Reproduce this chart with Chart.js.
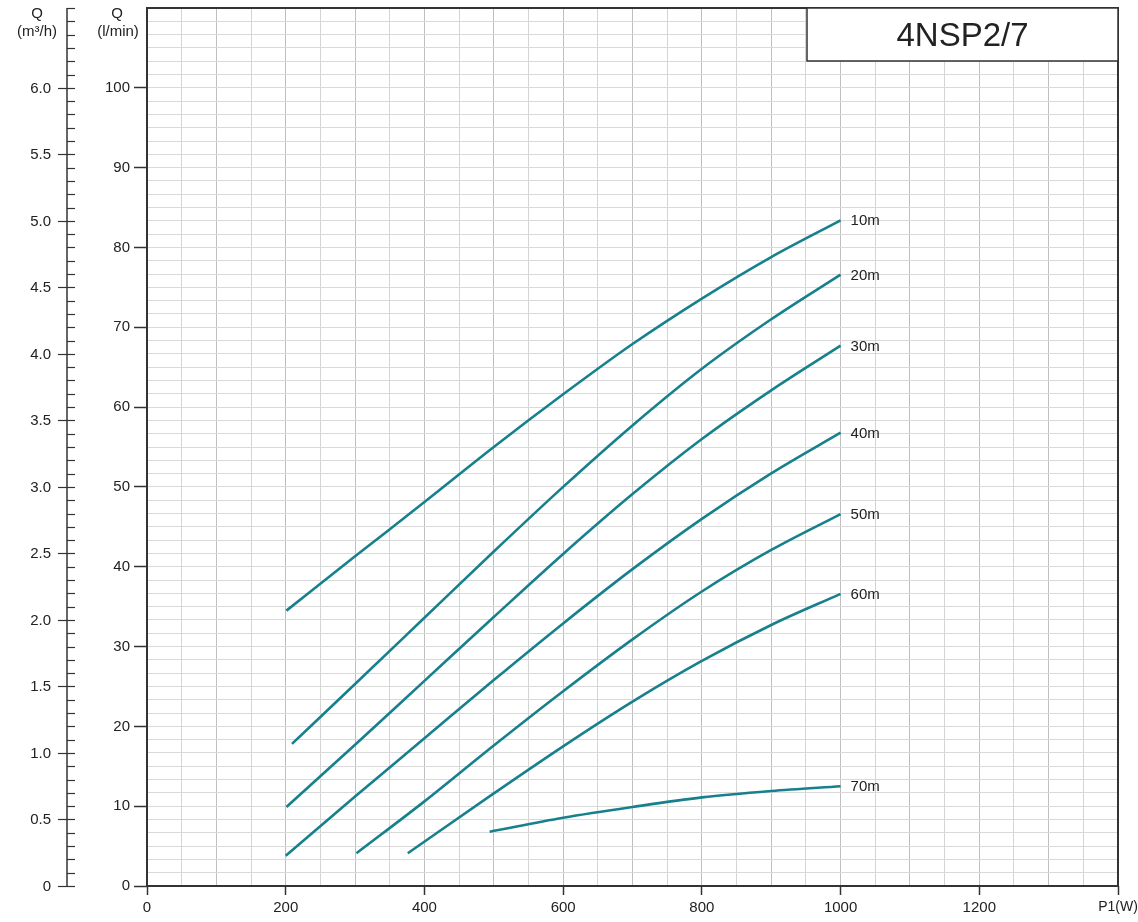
<!DOCTYPE html>
<html>
<head>
<meta charset="utf-8">
<script src="https://cdn.jsdelivr.net/npm/chart.js@4.4.1/dist/chart.umd.min.js"></script>
<style>
  html, body { margin: 0; padding: 0; background: #fff; }
</style>
</head>
<body>
<canvas id="pumpChart" width="1138" height="922"></canvas>
<script>
// 4NSP2/7 - flow against input power, one curve per head
var heads = ['10m', '20m', '30m', '40m', '50m', '60m', '70m'];

var p10 = [201, 300, 400, 500, 600, 700, 800, 900, 1000];
var q10 = [34.5, 41.3, 48.1, 55.0, 61.6, 67.9, 73.6, 78.8, 83.4];
var p20 = [209, 300, 400, 500, 600, 700, 800, 900, 1000];
var q20 = [17.8, 25.3, 33.6, 41.9, 50.0, 57.7, 64.8, 71.0, 76.6];
var p30 = [201, 300, 400, 500, 600, 700, 800, 900, 1000];
var q30 = [9.9, 17.7, 25.7, 33.7, 41.6, 49.1, 56.0, 62.1, 67.7];
var p40 = [200, 300, 400, 500, 600, 700, 800, 900, 1000];
var q40 = [3.8, 11.2, 18.5, 25.8, 32.9, 39.7, 46.0, 51.7, 56.8];
var p50 = [302, 400, 500, 600, 700, 800, 900, 1000];
var q50 = [4.1, 10.6, 17.6, 24.4, 30.9, 36.9, 42.1, 46.6];
var p60 = [376, 500, 600, 700, 800, 900, 1000];
var q60 = [4.1, 11.6, 17.5, 23.1, 28.2, 32.7, 36.6];
var p70 = [494, 600, 700, 800, 900, 1000];
var q70 = [6.8, 8.55, 9.9, 11.1, 11.9, 12.5];

var powers = [p10, p20, p30, p40, p50, p60, p70];
var flows = [q10, q20, q30, q40, q50, q60, q70];

// tick values
var xTicks = [0, 200, 400, 600, 800, 1000, 1200];
var lminTicks = [0, 10, 20, 30, 40, 50, 60, 70, 80, 90, 100];
var m3hLabels = ['0', '0.5', '1.0', '1.5', '2.0', '2.5', '3.0', '3.5', '4.0', '4.5', '5.0', '5.5', '6.0'];

var lineColor = '#17808d';
var inkColor = '#222';
var fontName = '"Liberation Sans", Arial, Helvetica, sans-serif';

var datasets = heads.map(function(h, i) {
   return {
      label: h,
      data: powers[i].map(function(p, j) { return { x: p, y: flows[i][j] }; }),
      borderColor: lineColor,
      borderWidth: 2.6,
      pointRadius: 0,
      fill: false,
      cubicInterpolationMode: 'monotone'
   };
});

// extra drawing: frame, m3/h scale, axis titles, curve names, title box
var extras = {
   id: 'extras',
   afterDraw: function(chart) {
      var ctx = chart.ctx;
      var area = chart.chartArea;
      var xs = chart.scales.x;
      var ys = chart.scales.y;
      ctx.save();

      // frame
      ctx.strokeStyle = '#333';
      ctx.lineWidth = 2;
      ctx.strokeRect(area.left, area.top, area.right - area.left, area.bottom - area.top);

      // m3/h scale, 0.1 steps (1 m3/h = 100/6 l/min)
      var axisX = 67;
      ctx.lineWidth = 1.5;
      ctx.beginPath();
      ctx.moveTo(axisX, ys.getPixelForValue(0) + 0.5);
      ctx.lineTo(axisX, area.top);
      ctx.stroke();
      ctx.font = '15px ' + fontName;
      ctx.fillStyle = inkColor;
      ctx.textAlign = 'right';
      ctx.textBaseline = 'middle';
      for (var i = 0; i <= 66; i++) {
         var y = Math.round(ys.getPixelForValue(i / 10 * 100 / 6)) + 0.5;
         var major = (i % 5 === 0) && i <= 60;
         ctx.lineWidth = 1.2;
         ctx.beginPath();
         ctx.moveTo(major ? 58 : axisX, y);
         ctx.lineTo(75, y);
         ctx.stroke();
         if (major) ctx.fillText(m3hLabels[i / 5], 51, y);
      }

      // axis titles
      ctx.textAlign = 'center';
      ctx.font = '15px ' + fontName;
      ctx.fillText('Q', 37, 14);
      ctx.fillText('(m³/h)', 37, 32);
      ctx.fillText('Q', 117, 14);
      ctx.fillText('(l/min)', 118, 32);

      // curve names at the end of each line
      ctx.textAlign = 'left';
      chart.data.datasets.forEach(function(ds) {
         var last = ds.data[ds.data.length - 1];
         ctx.fillText(ds.label, xs.getPixelForValue(last.x) + 10, ys.getPixelForValue(last.y) + 1);
      });

      // model box top right
      var bx = area.right - 311, by = area.top, bw = 311, bh = 53;
      ctx.fillStyle = '#fff';
      ctx.fillRect(bx, by, bw, bh);
      ctx.strokeStyle = '#333';
      ctx.lineWidth = 1.5;
      ctx.strokeRect(bx, by, bw, bh);
      ctx.fillStyle = inkColor;
      ctx.textAlign = 'center';
      ctx.font = '33px ' + fontName;
      ctx.fillText('4NSP2/7', bx + bw / 2, by + bh / 2 + 2);
      ctx.restore();
   }
};

var ctxP = document.getElementById('pumpChart').getContext('2d');
var pumpChart = new Chart(ctxP, {
   type: 'line',
   data: { datasets: datasets },
   plugins: [extras],
   options: {
      responsive: false,
      animation: false,
      events: [],
      layout: { padding: { left: 87, top: 8, right: 20, bottom: 0 } },
      plugins: { legend: { display: false }, tooltip: { enabled: false } },
      scales: {
         x: {
            type: 'linear',
            min: 0,
            max: 1400,
            afterFit: function(s) { s.height = 36; s.paddingLeft = 0; s.paddingRight = 0; },
            border: { display: false },
            grid: {
               color: function(c) {
                  return (c.tick && c.tick.value % 100 === 0) ? '#bfbfbf' : '#d4d4d4';
               },
               lineWidth: 1,
               tickLength: 9,
               tickWidth: 1.5,
               tickColor: function(c) {
                  return (c.tick && c.tick.value % 200 === 0) ? '#333' : 'rgba(0,0,0,0)';
               }
            },
            ticks: {
               stepSize: 50,
               autoSkip: false,
               maxRotation: 0,
               padding: 4,
               color: inkColor,
               font: function(c) {
                  return { size: (c.tick && c.tick.value === 1400) ? 14 : 15, family: fontName };
               },
               callback: function(v) {
                  if (v === 1400) return 'P1(W)';
                  return xTicks.indexOf(v) >= 0 ? String(v) : '';
               }
            }
         },
         y: {
            type: 'linear',
            position: 'left',
            min: 0,
            max: 110,
            weight: 1,
            afterFit: function(s) { s.width = 60; s.paddingTop = 0; s.paddingBottom = 0; },
            border: { display: false },
            grid: {
               drawOnChartArea: false,
               tickLength: 13,
               tickWidth: 1.5,
               tickColor: function(c) {
                  return (c.tick && lminTicks.indexOf(c.tick.value) >= 0) ? '#333' : 'rgba(0,0,0,0)';
               }
            },
            ticks: {
               stepSize: 10,
               padding: 4,
               color: inkColor,
               font: { size: 15, family: fontName },
               callback: function(v) { return lminTicks.indexOf(v) >= 0 ? String(v) : ''; }
            }
         },
         yq: {
            type: 'linear',
            position: 'left',
            min: 0,
            max: 6.6,
            weight: 2,
            afterFit: function(s) { s.width = 0; s.paddingTop = 0; s.paddingBottom = 0; },
            border: { display: false },
            grid: { color: '#d9d9d9', lineWidth: 1, drawTicks: false },
            ticks: { stepSize: 0.1, display: false }
         }
      }
   }
});
</script>
</body>
</html>
